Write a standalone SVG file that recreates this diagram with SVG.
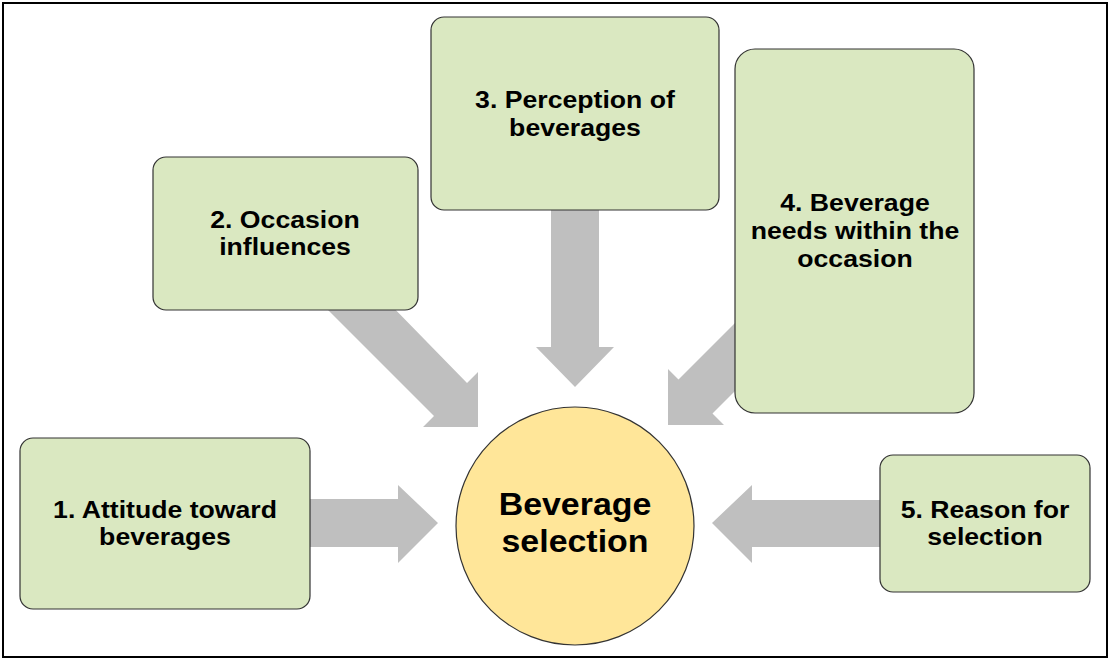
<svg xmlns="http://www.w3.org/2000/svg" width="1109" height="659" viewBox="0 0 1109 659">
  <style>
    .box { fill: #DAE8C1; stroke: #333333; stroke-width: 1.2; }
    .hub { fill: #FFE699; stroke: #333333; stroke-width: 1.2; }
    .arrow { fill: #BFBFBF; stroke: none; }
    .lbl { font-family: "Liberation Sans", Arial, sans-serif; font-weight: bold; font-size: 24px; fill: #000000; text-anchor: middle; }
    .hubtxt { font-family: "Liberation Sans", Arial, sans-serif; font-weight: bold; font-size: 32px; fill: #000000; text-anchor: middle; }
  </style>
  <rect x="0" y="0" width="1109" height="659" fill="#ffffff"/>
  <!-- outer frame -->
  <rect x="3" y="3" width="1104" height="654" fill="none" stroke="#000000" stroke-width="2"/>

  <!-- block arrows pointing at the central circle -->
  <g id="connectors">
    <polygon class="arrow" points="300,499 398,499 398,485 438,523 398,563 398,547 300,547"/>
    <polygon class="arrow" points="386,300 467,383 478,372 478,427 423,427 434,416 318,300"/>
    <polygon class="arrow" points="551,205 599,205 599,347 614,347 575,387 536,347 551,347"/>
    <polygon class="arrow" points="745,313 678.5,379.5 668,369 668,425 724,425 712.5,413.5 745,381"/>
    <polygon class="arrow" points="890,500 752,500 752,485 712,523 752,563 752,547 890,547"/>
  </g>

  <!-- labels are slightly widened glyphs -->
  <g id="node1">
    <rect class="box" x="20" y="438" width="290" height="171" rx="13"/>
    <text class="lbl" transform="translate(165,518) scale(1.11,1)">1. Attitude toward</text>
    <text class="lbl" transform="translate(165,545) scale(1.11,1)">beverages</text>
  </g>

  <g id="node2">
    <rect class="box" x="153" y="157" width="265" height="153" rx="13"/>
    <text class="lbl" transform="translate(285,228) scale(1.11,1)">2. Occasion</text>
    <text class="lbl" transform="translate(285,255) scale(1.11,1)">influences</text>
  </g>

  <g id="node3">
    <rect class="box" x="431" y="17" width="288" height="193" rx="13"/>
    <text class="lbl" transform="translate(575,108) scale(1.11,1)">3. Perception of</text>
    <text class="lbl" transform="translate(575,136) scale(1.11,1)">beverages</text>
  </g>

  <g id="node4">
    <rect class="box" x="735" y="49" width="239" height="364" rx="20"/>
    <text class="lbl" transform="translate(855,211) scale(1.11,1)">4. Beverage</text>
    <text class="lbl" transform="translate(855,239) scale(1.11,1)">needs within the</text>
    <text class="lbl" transform="translate(855,267) scale(1.11,1)">occasion</text>
  </g>

  <g id="node5">
    <rect class="box" x="880" y="455" width="210" height="137" rx="13"/>
    <text class="lbl" transform="translate(985,518) scale(1.11,1)">5. Reason for</text>
    <text class="lbl" transform="translate(985,545) scale(1.11,1)">selection</text>
  </g>

  <g id="center">
    <circle class="hub" cx="575" cy="526" r="119"/>
    <text class="hubtxt" transform="translate(575,515) scale(1.06,1)">Beverage</text>
    <text class="hubtxt" transform="translate(575,552) scale(1.06,1)">selection</text>
  </g>
</svg>
